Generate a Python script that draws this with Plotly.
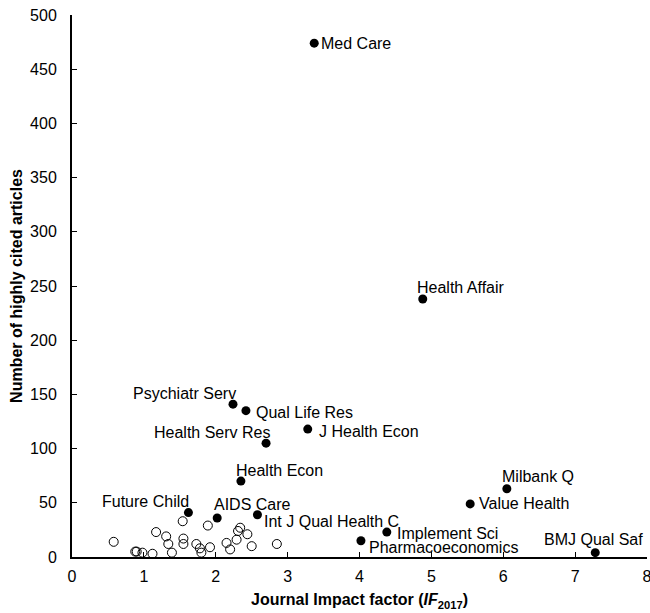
import plotly.graph_objects as go

# Labeled journals (filled markers)
labels = ["Med Care", "Health Affair", "Psychiatr Serv", "Qual Life Res", "J Health Econ",
          "Health Serv Res", "Health Econ", "Milbank Q", "Value Health", "Future Child",
          "AIDS Care", "Int J Qual Health C", "Implement Sci", "Pharmacoeconomics", "BMJ Qual Saf"]
labeled_if = [3.37, 4.88, 2.24, 2.42, 3.28, 2.70, 2.35, 6.05, 5.54, 1.62, 2.02, 2.58, 4.38, 4.02, 7.28]
labeled_n = [474, 238, 141, 135, 118, 105, 70, 63, 49, 41, 36, 39, 23, 15, 4]

# Other journals (open markers)
other_if = [0.58, 0.88, 0.90, 0.98, 1.12, 1.17, 1.31, 1.34, 1.39, 1.54, 1.55, 1.55, 1.73,
            1.78, 1.80, 1.89, 1.92, 2.15, 2.20, 2.29, 2.31, 2.34, 2.44, 2.50, 2.85]
other_n = [14, 5, 5, 4, 3, 23, 19, 12, 4, 33, 17, 12, 12,
           8, 4, 29, 9, 13, 7, 16, 24, 27, 21, 10, 12]

x_ticks = [0, 1, 2, 3, 4, 5, 6, 7, 8]
y_ticks = [0, 50, 100, 150, 200, 250, 300, 350, 400, 450, 500]

# label placement: (xanchor, xshift, yshift)
label_pos = {
    "Med Care": ("left", 5, 0),
    "Health Affair": ("left", -8, 12),
    "Psychiatr Serv": ("right", 5, 11),
    "Qual Life Res": ("left", 8, -2),
    "J Health Econ": ("left", 9, -2),
    "Health Serv Res": ("right", 7, 11),
    "Health Econ": ("left", -7, 11),
    "Milbank Q": ("left", -7, 12),
    "Value Health": ("left", 7, 0),
    "Future Child": ("right", 3, 11),
    "AIDS Care": ("left", -5, 13),
    "Int J Qual Health C": ("left", 5, -7),
    "Implement Sci": ("left", 8, -1),
    "Pharmacoeconomics": ("left", 6, -7),
    "BMJ Qual Saf": ("right", 50, 13),
}

FONT = "Liberation Sans, Arial, sans-serif"

fig = go.Figure()
fig.add_trace(go.Scatter(
    x=other_if, y=other_n, mode="markers",
    marker=dict(symbol="circle-open", size=9, color="black", line=dict(width=1, color="black")),
    showlegend=False, cliponaxis=False, hoverinfo="skip"))
fig.add_trace(go.Scatter(
    x=labeled_if, y=labeled_n, mode="markers",
    marker=dict(symbol="circle", size=9, color="black"),
    showlegend=False, cliponaxis=False, hoverinfo="skip"))

for name, xv, yv in zip(labels, labeled_if, labeled_n):
    xa, xs, ys = label_pos[name]
    fig.add_annotation(x=xv, y=yv, text=name, showarrow=False,
                       xanchor=xa, yanchor="middle", xshift=xs, yshift=ys,
                       font=dict(family=FONT, size=16, color="black"))

fig.update_layout(
    width=650, height=613,
    margin=dict(l=72, r=3, t=15, b=56, autoexpand=False),
    plot_bgcolor="white", paper_bgcolor="white",
    font=dict(family=FONT, size=16, color="black"),
    showlegend=False,
)
fig.update_xaxes(
    range=[0, 8], tickvals=x_ticks, ticktext=[str(v) for v in x_ticks],
    showgrid=False, zeroline=False, showline=True, linecolor="black", linewidth=2,
    ticks="inside", ticklen=5, tickwidth=1, tickcolor="black", automargin=False,
    ticklabeloverflow="allow", ticklabelstandoff=4,
    title=dict(text="<b>Journal Impact factor (<i>IF</i><sub>2017</sub>)</b>",
               font=dict(family=FONT, size=16), standoff=10),
)
fig.update_yaxes(
    range=[0, 500], tickvals=y_ticks, ticktext=[str(v) for v in y_ticks],
    showgrid=False, zeroline=False, showline=True, linecolor="black", linewidth=2,
    ticks="inside", ticklen=5, tickwidth=1, tickcolor="black", automargin=False,
    ticklabelstandoff=10,
    title=dict(text="<b>Number of highly cited articles</b>",
               font=dict(family=FONT, size=16), standoff=3),
)

fig.write_html("out.html", config={"displayModeBar": False},
               post_script="document.body.style.margin='0px';document.body.style.overflow='hidden';")
